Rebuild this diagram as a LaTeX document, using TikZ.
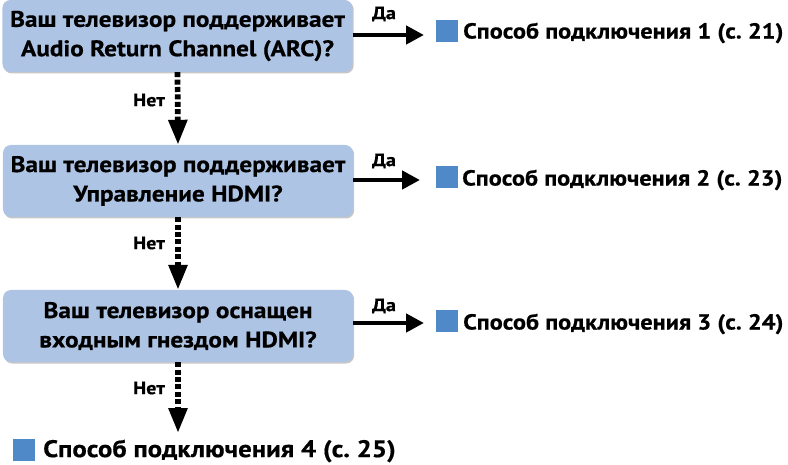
\documentclass[tikz,border=0pt]{standalone}
\usepackage{fontspec}
\setmainfont{PT Sans}[FakeStretch=1.12, BoldFeatures={FakeBold=0.6}]
\usetikzlibrary{arrows.meta,shadows}
\definecolor{boxblue}{HTML}{AEC4E4}
\definecolor{sqblue}{HTML}{4F89C8}
\tikzset{
  qbox/.style={rectangle, rounded corners=8bp, fill=boxblue, minimum width=350bp, minimum height=72bp,
    align=center, inner sep=0pt, font=\fontsize{22.6}{29.5}\selectfont\bfseries,
    drop shadow={shadow xshift=1.2bp, shadow yshift=-1.5bp, fill=black!22, opacity=1}},
  yesarrow/.style={line width=4.7bp, -{Triangle[length=18bp,width=18bp]}},
  noarrow/.style={line width=5.7bp, dash pattern=on 5bp off 2.4bp, -{Triangle[length=25bp,width=18bp]}},
  lbl/.style={font=\fontsize{18}{20}\selectfont\bfseries, inner sep=0pt},
  sq/.style={rectangle, fill=sqblue, minimum size=22bp, inner sep=0pt},
  res/.style={font=\fontsize{21.8}{24}\selectfont\bfseries\frenchspacing, inner sep=0pt, anchor=west},
  resbig/.style={res, font=\fontsize{24}{26}\selectfont\bfseries\frenchspacing},
}
\begin{document}
\begin{tikzpicture}[x=1bp,y=-1bp]
\useasboundingbox (0,0) rectangle (788,465);
\node[qbox] (q1) at (177.5,36) {Ваш телевизор поддерживает\\Audio Return Channel (ARC)?};
\node[qbox] (q2) at (178,181) {Ваш телевизор поддерживает\\Управление HDMI?};
\node[qbox] (q3) at (178,326) {Ваш телевизор оснащен\\входным гнездом HDMI?};
% results
\node[sq] (s1) at (447,31) {};
\node[res] (r1) at (463,33) {Способ подключения 1 (с. 21)};
\node[sq] (s2) at (446.5,177.5) {};
\node[res] (r2) at (462,180) {Способ подключения 2 (с. 23)};
\node[sq] (s3) at (447,321) {};
\node[res] (r3) at (463,324) {Способ подключения 3 (с. 24)};
\node[sq] (s4) at (24,450) {};
\node[resbig] (r4) at (43,451) {Способ подключения 4 (с. 25)};
% yes arrows
\coordinate (e1) at (424,35);
\coordinate (e2) at (420,180);
\coordinate (e3) at (424,323);
\draw[yesarrow] (q1.east |- e1) -- (e1);
\draw[yesarrow] (q2.east |- e2) -- (e2);
\draw[yesarrow] (q3.east |- e3) -- (e3);
\node[lbl] (y1) at (384,14) {Да};
\node[lbl] (y2) at (384,161) {Да};
\node[lbl] (y3) at (384,306) {Да};
% no arrows
\coordinate (n3) at (178,433);
\draw[noarrow] (q1.south) -- (q2.north);
\draw[noarrow] (q2.south) -- (q3.north);
\draw[noarrow] (q3.south) -- (n3);
\node[lbl, anchor=east] (no1) at (165,100) {Нет};
\node[lbl, anchor=east] (no2) at (165,243) {Нет};
\node[lbl, anchor=east] (no3) at (165,388) {Нет};
\end{tikzpicture}
\end{document}
